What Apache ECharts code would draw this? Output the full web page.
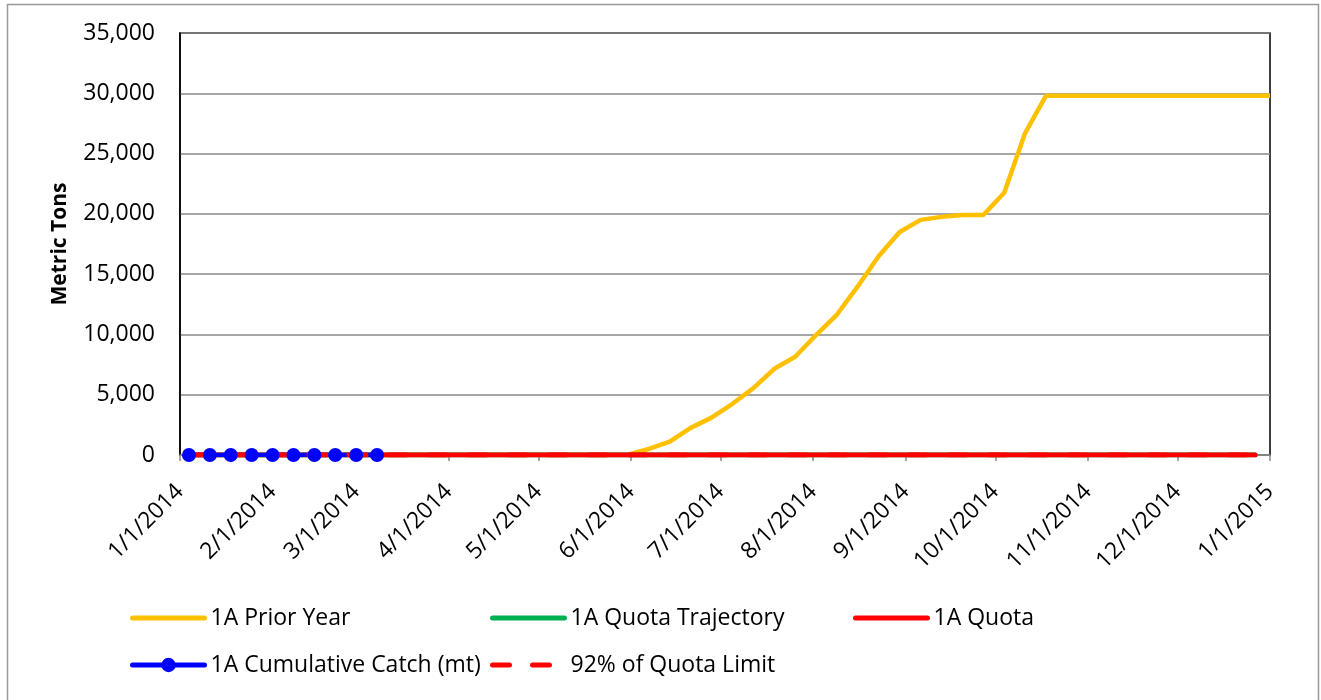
<!DOCTYPE html>
<html>
<head>
<meta charset="utf-8">
<script src="https://cdn.jsdelivr.net/npm/echarts@6/dist/echarts.min.js"></script>
<style>
  html, body { margin: 0; padding: 0; background: #fff; }
  #chart { width: 1321px; height: 700px; }
</style>
</head>
<body>
<div id="chart"></div>
<script>
// weekly dates (Saturdays)
var weekDates = [
    '2014-01-04','2014-01-11','2014-01-18','2014-01-25','2014-02-01','2014-02-08','2014-02-15','2014-02-22',
    '2014-03-01','2014-03-08','2014-03-15','2014-03-22','2014-03-29','2014-04-05','2014-04-12','2014-04-19',
    '2014-04-26','2014-05-03','2014-05-10','2014-05-17','2014-05-24','2014-05-31','2014-06-07','2014-06-14',
    '2014-06-21','2014-06-28','2014-07-05','2014-07-12','2014-07-19','2014-07-26','2014-08-02','2014-08-09',
    '2014-08-16','2014-08-23','2014-08-30','2014-09-06','2014-09-13','2014-09-20','2014-09-27','2014-10-04',
    '2014-10-11','2014-10-18','2014-10-25','2014-11-01','2014-11-08','2014-11-15','2014-11-22','2014-11-29',
    '2014-12-06','2014-12-13','2014-12-20','2014-12-27'
];
var priorDates = weekDates.concat(['2015-01-01']);
var priorYear = [
    0, 0, 0, 0, 0, 0, 0, 0, 0, 0,
    0, 0, 0, 0, 0, 0, 0, 0, 0, 0,
    0, 30, 500, 1100, 2250, 3100, 4250, 5550, 7150, 8150,
    9950, 11650, 14000, 16500, 18500, 19500, 19750, 19900, 19900, 21750,
    26700, 29800, 29800, 29800, 29800, 29800, 29800, 29800, 29800, 29800,
    29800, 29800, 29800
];
var quotaTrajectory = [
    0, 0, 0, 0, 0, 0, 0, 0, 0, 0, 0, 0, 0, 0, 0, 0, 0, 0, 0, 0, 0, 0, 0, 0, 0, 0,
    0, 0, 0, 0, 0, 0, 0, 0, 0, 0, 0, 0, 0, 0, 0, 0, 0, 0, 0, 0, 0, 0, 0, 0, 0, 0
];
var quota = [
    0, 0, 0, 0, 0, 0, 0, 0, 0, 0, 0, 0, 0, 0, 0, 0, 0, 0, 0, 0, 0, 0, 0, 0, 0, 0,
    0, 0, 0, 0, 0, 0, 0, 0, 0, 0, 0, 0, 0, 0, 0, 0, 0, 0, 0, 0, 0, 0, 0, 0, 0, 0
];
var quota92 = [
    0, 0, 0, 0, 0, 0, 0, 0, 0, 0, 0, 0, 0, 0, 0, 0, 0, 0, 0, 0, 0, 0, 0, 0, 0, 0,
    0, 0, 0, 0, 0, 0, 0, 0, 0, 0, 0, 0, 0, 0, 0, 0, 0, 0, 0, 0, 0, 0, 0, 0, 0, 0
];
var catchDates = weekDates.slice(0, 10);
var cumulativeCatch = [0, 0, 0, 0, 0, 0, 0, 0, 0, 0];
var monthTicks = [
    '2014-01-01','2014-02-01','2014-03-01','2014-04-01','2014-05-01','2014-06-01','2014-07-01',
    '2014-08-01','2014-09-01','2014-10-01','2014-11-01','2014-12-01','2015-01-01'
];
var yTicks = [0, 5000, 10000, 15000, 20000, 25000, 30000, 35000];

// x axis runs in days counted from 1/1/2014
var DAY = 86400000;
var T0 = Date.UTC(2014, 0, 1);
function toDay(s) {
    var p = s.split('-');
    return Math.round((Date.UTC(+p[0], +p[1] - 1, +p[2]) - T0) / DAY);
}
function dayLabel(v) {
    var d = new Date(T0 + Math.round(v) * DAY);
    return (d.getUTCMonth() + 1) + '/' + d.getUTCDate() + '/' + d.getUTCFullYear();
}
function pairs(dates, vals) {
    var out = [];
    for (var i = 0; i < vals.length; i++) out.push([toDay(dates[i]), vals[i]]);
    return out;
}

var FONT = 'Open Sans';
var tickVals = monthTicks.map(toDay);

var chart = echarts.init(document.getElementById('chart'));

// one legend box per entry, placed like the excel legend grid
function legendItem(name, left, top, marker, dash) {
    return {
        data: [name],
        left: left,
        top: top,
        padding: 0,
        itemWidth: 72,
        itemHeight: 18,
        itemGap: 0,
        itemStyle: marker ? {} : {opacity: 0},
        lineStyle: {width: 5, cap: 'round', type: dash || 'solid'},
        textStyle: {fontFamily: FONT, fontSize: 23, lineHeight: 26, color: '#000', padding: [0, 0, 0, 1]},
        selectedMode: false
    };
}

var option = {
    animation: false,
    backgroundColor: '#fff',
    textStyle: {fontFamily: FONT},
    graphic: [{
        type: 'rect',
        shape: {x: 7.5, y: 4.5, width: 1311, height: 700},
        style: {fill: 'none', stroke: '#999', lineWidth: 1.5},
        silent: true
    }],
    grid: {
        left: 180, right: 51, top: 33, bottom: 245,
        show: true, borderColor: '#000', borderWidth: 1.5
    },
    legend: [
        legendItem('1A Prior Year', 130, 605),
        legendItem('1A Quota Trajectory', 490, 605),
        legendItem('1A Quota', 853, 605),
        legendItem('1A Cumulative Catch (mt)', 130, 652, true),
        legendItem('92% of Quota Limit', 490, 652, false, [17, 23])
    ],
    xAxis: {
        type: 'value',
        min: tickVals[0],
        max: tickVals[tickVals.length - 1],
        axisLine: {show: true, lineStyle: {color: '#888', width: 1.5}},
        axisTick: {show: true, length: 6, lineStyle: {color: '#888', width: 1.5}, customValues: tickVals},
        splitLine: {show: false},
        axisLabel: {
            customValues: tickVals,
            rotate: 45,
            margin: 33,
            fontFamily: FONT,
            fontSize: 23,
            color: '#000',
            formatter: dayLabel
        }
    },
    yAxis: {
        type: 'value',
        min: yTicks[0],
        max: yTicks[yTicks.length - 1],
        interval: yTicks[1] - yTicks[0],
        name: 'Metric Tons',
        nameLocation: 'middle',
        nameGap: 109,
        nameTextStyle: {fontFamily: FONT, fontSize: 21, fontWeight: 'bold', color: '#000'},
        axisLine: {show: true, lineStyle: {color: '#000', width: 1.5}},
        axisTick: {show: false},
        splitLine: {show: true, lineStyle: {color: '#888', width: 1.5}},
        axisLabel: {
            margin: 25,
            fontFamily: FONT,
            fontSize: 23,
            color: '#000',
            formatter: function (v) { return v.toLocaleString('en-US'); }
        }
    },
    series: [
        {
            name: '1A Prior Year',
            type: 'line',
            symbol: 'none',
            data: pairs(priorDates, priorYear),
            lineStyle: {color: '#FFC000', width: 4.5},
            itemStyle: {color: '#FFC000'}
        },
        {
            name: '1A Quota Trajectory',
            type: 'line',
            symbol: 'none',
            data: pairs(weekDates, quotaTrajectory),
            lineStyle: {color: '#00B050', width: 5, cap: 'round'},
            itemStyle: {color: '#00B050'}
        },
        {
            name: '1A Quota',
            type: 'line',
            symbol: 'none',
            data: pairs(weekDates, quota),
            lineStyle: {color: '#FF0000', width: 5, cap: 'round'},
            itemStyle: {color: '#FF0000'}
        },
        {
            name: '1A Cumulative Catch (mt)',
            type: 'line',
            symbol: 'circle',
            symbolSize: 14,
            data: pairs(catchDates, cumulativeCatch),
            lineStyle: {color: '#0000FF', width: 4.5},
            itemStyle: {color: '#0000FF'}
        },
        {
            name: '92% of Quota Limit',
            type: 'line',
            symbol: 'none',
            data: pairs(weekDates, quota92),
            lineStyle: {color: '#FF0000', width: 5, type: [17, 23], cap: 'round'},
            itemStyle: {color: '#FF0000'}
        }
    ]
};
chart.setOption(option);
</script>
</body>
</html>
